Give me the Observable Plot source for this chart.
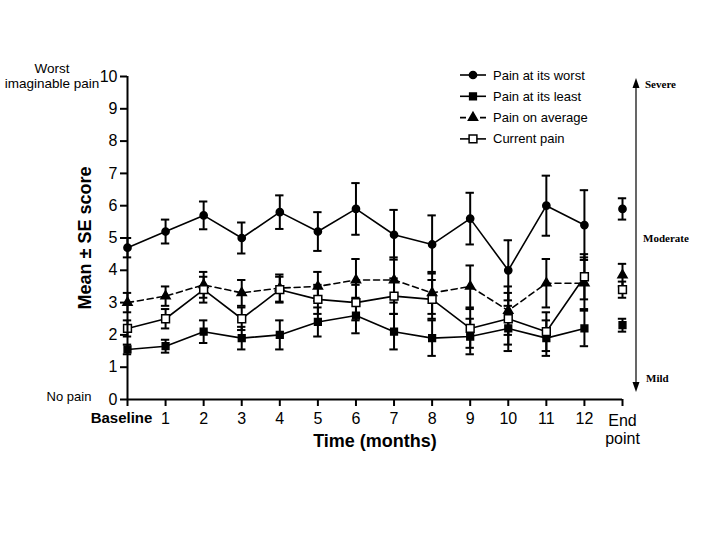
<!DOCTYPE html>
<html>
<head>
<meta charset="utf-8">
<script src="https://cdn.jsdelivr.net/npm/d3@7"></script>
<script src="https://cdn.jsdelivr.net/npm/@observablehq/plot@0.6"></script>
<style>
  html, body { margin: 0; padding: 0; background: #fff; }
  #chart { width: 720px; height: 540px; }
</style>
</head>
<body>
<div id="chart"></div>
<script>
// ---- data ----
const timeLabels = ["Baseline","1","2","3","4","5","6","7","8","9","10","11","12","End\npoint"];
const seriesNames = ["Pain at its worst","Pain at its least","Pain on average","Current pain"];

const worstMean = [4.7,5.2,5.7,5.0,5.8,5.2,5.9,5.1,4.8,5.6,4.0,6.0,5.4,5.9];
const worstSE   = [0.3,0.37,0.43,0.48,0.52,0.6,0.8,0.77,0.9,0.8,0.93,0.93,1.08,0.33];

const leastMean = [1.55,1.65,2.1,1.9,2.0,2.4,2.6,2.1,1.9,1.95,2.2,1.9,2.2,2.3];
const leastSE   = [0.15,0.2,0.35,0.35,0.45,0.45,0.55,0.55,0.55,0.55,0.7,0.55,0.55,0.2];

const avgMean = [3.0,3.2,3.55,3.3,3.45,3.5,3.7,3.7,3.3,3.5,2.75,3.6,3.6,3.85];
const avgSE   = [0.3,0.3,0.4,0.4,0.42,0.45,0.65,0.7,0.65,0.65,0.75,0.75,0.8,0.35];

const curMean = [2.2,2.5,3.4,2.5,3.4,3.1,3.0,3.2,3.1,2.2,2.5,2.1,3.8,3.4];
const curSE   = [0.25,0.3,0.4,0.35,0.4,0.45,0.55,0.55,0.6,0.6,0.8,0.6,0.7,0.25];

const yTicks = [0,1,2,3,4,5,6,7,8,9,10];

// ---- build table ----
const styles = [
  {symbol: "circle", fill: "black", r: 3.6, dash: null},
  {symbol: "square", fill: "black", r: 3.8, dash: null},
  {symbol: "triangle", fill: "black", r: 3.4, dash: "6,4"},
  {symbol: "square", fill: "white", r: 4.4, dash: null}
];
const means = [worstMean, leastMean, avgMean, curMean];
const ses = [worstSE, leastSE, avgSE, curSE];
const rows = [];
seriesNames.forEach((name, s) => {
  means[s].forEach((m, i) => {
    rows.push({series: name, s, x: i, y: m, lo: m - ses[s][i], hi: m + ses[s][i]});
  });
});
const lineRows = rows.filter(d => d.x <= 12);
const capHalf = 0.11;

const marks = [];
// error bars
marks.push(Plot.ruleX(rows, {x: "x", y1: "lo", y2: "hi", stroke: "black", strokeWidth: 2}));
marks.push(Plot.ruleY(rows, {y: "hi", x1: d => d.x - capHalf, x2: d => d.x + capHalf, stroke: "black", strokeWidth: 2}));
marks.push(Plot.ruleY(rows, {y: "lo", x1: d => d.x - capHalf, x2: d => d.x + capHalf, stroke: "black", strokeWidth: 2}));
// lines
seriesNames.forEach((name, s) => {
  marks.push(Plot.line(lineRows.filter(d => d.s === s), {
    x: "x", y: "y", stroke: "black", strokeWidth: 1.6,
    strokeDasharray: styles[s].dash || undefined
  }));
});
// markers
seriesNames.forEach((name, s) => {
  marks.push(Plot.dot(rows.filter(d => d.s === s), {
    x: "x", y: "y", symbol: styles[s].symbol, r: styles[s].r,
    fill: styles[s].fill, stroke: "black", strokeWidth: 1.5
  }));
});
// axes
marks.push(Plot.ruleX([0], {stroke: "black", strokeWidth: 2}));
marks.push(Plot.ruleY([0], {stroke: "black", strokeWidth: 2}));
marks.push(Plot.axisY({ticks: yTicks, tickSize: 7, tickPadding: 3, fontSize: 16, strokeWidth: 2, label: null, tickFormat: d => String(d)}));
marks.push(Plot.axisX({ticks: d3.range(0, timeLabels.length), tickSize: 7, tickPadding: 6, fontSize: 16, strokeWidth: 2, label: null,
  tickFormat: i => (i >= 1 && i <= 12) ? timeLabels[i] : ""}));
marks.push(Plot.text([0], {x: d => d, frameAnchor: "bottom", lineAnchor: "middle", dy: 19, dx: -6, text: d => timeLabels[d], fontSize: 15, fontWeight: "bold"}));
marks.push(Plot.text([13], {x: d => d, frameAnchor: "bottom", lineAnchor: "middle", dy: 30, text: d => timeLabels[d], fontSize: 16, lineHeight: 1.08}));
marks.push(Plot.text(["Time (months)"], {frameAnchor: "bottom", lineAnchor: "middle", dy: 42, fontSize: 18, fontWeight: "bold"}));
marks.push(Plot.text(["Mean \u00b1 SE score"], {frameAnchor: "left", textAnchor: "middle", lineAnchor: "middle", dx: -42, rotate: -90, fontSize: 18, fontWeight: "bold"}));

const chart = Plot.plot({
  width: 720, height: 540,
  marginLeft: 127, marginRight: 98, marginTop: 76, marginBottom: 141,
  x: {domain: [0, 13], axis: null},
  y: {domain: [0, 10], axis: null},
  style: {fontFamily: "'Liberation Sans', Arial, sans-serif", color: "black", background: "white", overflow: "visible"},
  marks
});
document.getElementById("chart").appendChild(chart);

// ---- annotations ----
const svg = d3.select(chart);
const ann = svg.append("g").attr("fill", "black").attr("text-anchor", "middle").style("font-family", "'Liberation Sans', Arial, sans-serif");
ann.append("text").attr("x", 52).attr("y", 73).attr("font-size", 13.5).text("Worst");
ann.append("text").attr("x", 52).attr("y", 88).attr("font-size", 13.5).text("imaginable pain");
ann.append("text").attr("x", 69).attr("y", 401).attr("font-size", 13).text("No pain");

// legend
const lg = svg.append("g").attr("text-anchor", "start");
seriesNames.forEach((name, s) => {
  const yy = 75 + 21.3 * s;
  lg.append("line").attr("x1", 460).attr("x2", 486).attr("y1", yy).attr("y2", yy)
    .attr("stroke", "black").attr("stroke-width", 1.6)
    .attr("stroke-dasharray", styles[s].dash || null);
  const sym = {circle: d3.symbolCircle, square: d3.symbolSquare, triangle: d3.symbolTriangle}[styles[s].symbol];
  lg.append("path").attr("d", d3.symbol(sym, Math.PI * styles[s].r * styles[s].r)())
    .attr("transform", `translate(473,${yy})`)
    .attr("fill", styles[s].fill).attr("stroke", "black").attr("stroke-width", 1.5);
  lg.append("text").attr("x", 493).attr("y", yy + 4.5).attr("font-size", 13).attr("text-anchor", "start")
    .style("font-family", "'Liberation Sans', Arial, sans-serif").text(name);
});

// severity arrow
const ar = svg.append("g").attr("text-anchor", "start");
ar.append("line").attr("x1", 636).attr("x2", 636).attr("y1", 84).attr("y2", 386).attr("stroke", "black").attr("stroke-width", 1.2);
ar.append("path").attr("d", "M636,78 L632.5,88 L639.5,88 Z").attr("fill", "black");
ar.append("path").attr("d", "M636,392 L632.5,382 L639.5,382 Z").attr("fill", "black");
const sev = [["Severe", 645, 88], ["Moderate", 643, 242], ["Mild", 646, 382]];
sev.forEach(([t, x, y]) => {
  ar.append("text").attr("x", x).attr("y", y).attr("font-size", 11).attr("font-weight", "bold").attr("text-anchor", "start")
    .style("font-family", "'Liberation Serif', 'Times New Roman', serif").text(t);
});
</script>
</body>
</html>
